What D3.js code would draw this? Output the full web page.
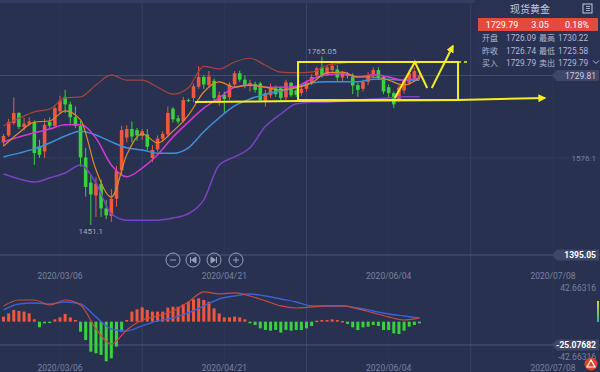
<!DOCTYPE html>
<html>
<head>
<meta charset="utf-8">
<script src="https://cdn.jsdelivr.net/npm/d3@7"></script>
<style>
  html, body { margin: 0; padding: 0; background: #28314f; }
  svg { display: block; }
  text { font-family: Roboto, "Noto Sans CJK SC", sans-serif; }
</style>
</head>
<body>
<div id="chart"></div>
<script>
// Daily candles, index 0 = 2020/02/20
const open  = [1605,1618,1641,1660,1634,1640,1643,1598,1588,1643,1636,1663,1690,1676,1652,1636,1577,1530,1506,1527,
               1482,1468,1500,1553,1614,1630,1628,1617,1620,1576,1592,1612,1620,1668,1650,1645,1684,1688,1709,1727,
               1712,1720,1680,1694,1689,1713,1734,1722,1710,1714,1715,1681,1693,1706,1706,1689,1716,1702,1697,1705,
               1716,1730,1745,1732,1740,1741,1726,1733,1728,1712,1705,1718,1730,1740,1727,1708,1697,1686,1702,1716,
               1724,1726];
const high  = [1621,1649,1689,1662,1651,1652,1646,1610,1649,1652,1674,1692,1703,1681,1672,1645,1595,1545,1540,1536,
               1498,1518,1561,1636,1637,1644,1632,1630,1630,1600,1618,1626,1672,1671,1656,1690,1687,1715,1747,1731,
               1738,1724,1700,1700,1717,1738,1739,1730,1722,1718,1718,1703,1715,1711,1709,1722,1718,1710,1710,1720,
               1732,1746,1765.05,1749,1753,1749,1738,1736,1734,1716,1722,1736,1745,1745,1730,1713,1700,1712,1724,1740,
               1745,1738];
const low   = [1598,1615,1638,1630,1627,1636,1563,1576,1576,1630,1633,1658,1660,1640,1632,1560,1504,1451.1,1466,1466,
               1462,1457,1485,1545,1605,1605,1608,1610,1590,1568,1588,1606,1615,1642,1640,1642,1680,1680,1705,1705,
               1707,1681,1673,1660,1684,1710,1718,1706,1700,1698,1680,1672,1688,1690,1683,1684,1690,1690,1692,1700,
               1712,1725,1726,1729,1735,1720,1718,1724,1695,1690,1700,1712,1725,1722,1695,1690,1669,1680,1696,1712,
               1720,1722];
const close = [1617,1643,1660,1634,1640,1644,1585,1582,1638,1636,1669,1683,1676,1652,1636,1577,1522,1508,1528,1482,
               1469,1500,1552,1628,1630,1616,1618,1626,1597,1591,1612,1621,1660,1648,1644,1684,1683,1710,1727,1713,
               1728,1688,1693,1686,1713,1734,1722,1712,1716,1703,1684,1697,1706,1695,1688,1717,1693,1694,1705,1717,
               1727,1743,1731,1745,1748,1726,1735,1729,1711,1703,1718,1730,1740,1727,1700,1697,1676,1707,1720,1734,
               1738,1729.79];

// Indicator lines, read every third candle
const lineIdx   = [0,3,6,9,12,15,18,21,24,27,30,33,36,39,42,45,48,51,54,57,60,63,66,69,72,75,78,81];
const bollUpper = [1636,1650,1662,1667,1688,1690,1712,1731,1721,1721,1708,1695,1707,1747,1742,1755,1762,1749,1736,1735,1736,1749,1753,1755,1755,1755,1755,1753];
const bollLower = [1546,1537,1531,1539,1548,1563,1529,1472,1460,1460,1460,1464,1472,1498,1563,1578,1595,1635,1658,1677,1680,1680,1682,1684,1686,1688,1690,1690];
const maBlue    = [1578,1585,1593,1604,1617,1626,1619,1606,1595,1591,1585,1585,1595,1625,1651,1673,1686,1695,1701,1708,1716,1718,1718,1718,1723,1723,1721,1721];
const maMagenta = [1606,1615,1623,1630,1638,1638,1613,1563,1541,1557,1582,1615,1643,1669,1688,1708,1712,1708,1708,1710,1723,1731,1733,1727,1731,1727,1721,1725];
const maOrange  = [1598,1623,1643,1645,1664,1647,1554,1503,1582,1621,1604,1626,1656,1699,1718,1708,1712,1708,1703,1707,1716,1735,1736,1727,1727,1721,1712,1725];

// MACD histogram, one per candle
const macdHist = [5.4,8.9,12.6,11.5,10.8,8.9,2.5,-6.1,-1.8,-1.1,
                  2.5,4.6,8.3,4.6,1.8,-10.8,-19.7,-32.3,-34.1,-35.8,
                  -42.66,-39.5,-26.9,-10.8,1.8,10.8,13.2,15.4,12.6,10.8,
                  10.8,10.8,15.1,16.1,16.1,18.6,21.5,24.0,25.1,23.3,
                  21.5,14.3,8.9,4.6,4.6,5.4,4.6,2.5,-1.8,-3.6,
                  -7.2,-8.9,-9.7,-8.9,-11.8,-8.9,-9.7,-8.9,-9.0,-7.2,
                  -4.7,1.1,1.8,1.8,2.5,1.8,0.7,-2.5,-6.1,-9.0,
                  -6.1,-5.4,-3.6,-4.7,-9.0,-9.0,-12.6,-13.3,-9.7,-5.4,
                  -3.6,-1.8];
const macdDif = [16.9,23.3,23.3,18.0,23.3,18.0,-7.9,-24.0,-8.9,1.8,6.1,11.5,21.2,32.0,29.8,30.9,27.6,22.3,16.9,14.7,15.8,16.9,16.9,13.7,9.4,5.1,1.8,4.0];
const macdDea = [12.6,19.0,20.1,19.0,21.2,19.0,5.1,-7.9,-10.0,-4.6,0.8,4.0,9.4,16.9,24.4,27.6,29.8,27.6,24.4,21.2,16.9,16.9,16.9,14.7,11.5,8.3,6.1,4.0];

// Axis labels
const dateIdx    = [11, 43, 75, 107];
const dateLabels = ["2020/03/06", "2020/04/21", "2020/06/04", "2020/07/08"];
const gridIdx    = [27, 59, 91];
const priceTicks = [1576.1];
const lastPrice  = 1729.81;
const bottomPrice = 1395.05;
const macdMax = 42.66316;
const macdCur = -25.07682;
const peakHigh = {i: 62, v: 1765.05, label: "1765.05"};
const troughLow = {i: 17, v: 1451.1, label: "1451.1"};

// Yellow hand drawn annotation, in candle index / price
const boxIdx = [57.35, 88.5], boxPrice = [1684, 1755];
const supportIdx = [37.3, 57.35, 88.5, 105.4], supportPrice = [1680.4, 1682.2, 1684.1, 1687.8];
const zigIdx = [76.2, 80.1, 82.5], zigPrice = [1687.8, 1755, 1706.5];
const upIdx = [83.4, 87.5], upPrice = [1706.5, 1784.8];
const dashIdx = [88.5, 90.8];

// Quote panel
const quoteTitle = "现货黄金";
const quoteHead = ["1729.79", "3.05", "0.18%"];
const quoteRows = [["开盘", "1726.09", "最高", "1730.22"],
                   ["昨收", "1726.74", "最低", "1725.58"],
                   ["买入", "1729.79", "卖出", "1729.79"]];

const W = 600, H = 372;
const up = "#f0583e", down = "#38d23c";

const x = d3.scaleLinear().domain([11, 107]).range([60, 553]);
const y = d3.scaleLinear().domain([bottomPrice, lastPrice]).range([255, 75.5]);
const ym = d3.scaleLinear().domain([-macdMax, macdMax]).range([361.3, 282]);

const svg = d3.select("#chart").append("svg")
    .attr("width", W).attr("height", H);

svg.append("rect").attr("width", W).attr("height", H).attr("fill", "#28314f");
svg.append("rect").attr("width", W).attr("height", 3).attr("fill", "#343d60");

// grid
svg.selectAll("line.vg").data(gridIdx).join("line")
    .attr("x1", d => x(d)).attr("x2", d => x(d))
    .attr("y1", 3).attr("y2", H)
    .attr("stroke", "#39426a").attr("stroke-width", 1);
svg.selectAll("line.vg2").data(dateIdx).join("line")
    .attr("x1", d => x(d)).attr("x2", d => x(d))
    .attr("y1", 3).attr("y2", H)
    .attr("stroke", "#2e3759").attr("stroke-width", 1);

svg.selectAll("line.hg").data(priceTicks).join("line")
    .attr("x1", 0).attr("x2", W)
    .attr("y1", d => y(d)).attr("y2", d => y(d))
    .attr("stroke", "#333c5f");
svg.append("line")
    .attr("x1", 0).attr("x2", 556)
    .attr("y1", y(lastPrice)).attr("y2", y(lastPrice))
    .attr("stroke", "#4a5478").attr("stroke-opacity", 0.8);
svg.append("line")
    .attr("x1", 0).attr("x2", W)
    .attr("y1", y(bottomPrice)).attr("y2", y(bottomPrice))
    .attr("stroke", "#4d577c");
svg.append("line")
    .attr("x1", 0).attr("x2", W)
    .attr("y1", ym(macdCur)).attr("y2", ym(macdCur))
    .attr("stroke", "#4d577c");

// candles
const idx = d3.range(open.length);
const cg = svg.append("g");
cg.selectAll("line").data(idx).join("line")
    .attr("x1", i => x(i)).attr("x2", i => x(i))
    .attr("y1", i => y(high[i])).attr("y2", i => y(low[i]))
    .attr("stroke", i => close[i] >= open[i] ? up : down);
cg.selectAll("rect").data(idx).join("rect")
    .attr("x", i => x(i) - 1.8).attr("width", 3.6)
    .attr("y", i => y(Math.max(open[i], close[i])))
    .attr("height", i => Math.max(1, y(Math.min(open[i], close[i])) - y(Math.max(open[i], close[i]))))
    .attr("fill", i => close[i] >= open[i] ? up : down);

// indicator lines
const priceLine = arr => d3.line()
    .x((d, k) => x(lineIdx[k]))
    .y(d => y(d))
    .curve(d3.curveMonotoneX)(arr);
[[bollUpper, "#a3453d", 1.2], [bollLower, "#7a42c4", 1.5], [maBlue, "#3f8fdc", 1.5],
 [maMagenta, "#d43ad6", 1.5], [maOrange, "#e08a2c", 1.2]].forEach(([arr, c, w]) => {
    svg.append("path").attr("d", priceLine(arr))
        .attr("fill", "none").attr("stroke", c).attr("stroke-width", w);
});

// high / low labels
svg.append("text").attr("x", x(peakHigh.i)).attr("y", y(peakHigh.v) - 3)
    .attr("text-anchor", "middle").attr("font-size", 8).attr("fill", "#a4aac2")
    .text(peakHigh.label);
svg.append("text").attr("x", x(troughLow.i)).attr("y", y(troughLow.v) + 9)
    .attr("text-anchor", "middle").attr("font-size", 8).attr("fill", "#a4aac2")
    .text(troughLow.label);

// yellow annotation
const yel = "#f2ee22";
const defs = svg.append("defs");
defs.append("marker").attr("id", "arr").attr("viewBox", "0 0 10 10")
    .attr("refX", 8).attr("refY", 5).attr("markerWidth", 4).attr("markerHeight", 4)
    .attr("orient", "auto")
    .append("path").attr("d", "M0,0L10,5L0,10z").attr("fill", yel);
const ag = svg.append("g").attr("fill", "none").attr("stroke", yel).attr("stroke-width", 2);
ag.append("rect")
    .attr("x", x(boxIdx[0])).attr("y", y(boxPrice[1]))
    .attr("width", x(boxIdx[1]) - x(boxIdx[0]))
    .attr("height", y(boxPrice[0]) - y(boxPrice[1]));
const pl = (is, ps) => d3.line()(is.map((d, k) => [x(d), y(ps[k])]));
ag.append("path").attr("d", pl(supportIdx, supportPrice)).attr("marker-end", "url(#arr)");
ag.append("path").attr("d", pl(zigIdx, zigPrice));
ag.append("path").attr("d", pl(upIdx, upPrice)).attr("marker-end", "url(#arr)");
ag.append("path").attr("d", pl(dashIdx, [boxPrice[1], boxPrice[1]]))
    .attr("stroke-dasharray", "3,3").attr("stroke-width", 1.5);

// MACD
const mg = svg.append("g");
mg.selectAll("rect").data(idx).join("rect")
    .attr("x", i => x(i) - 1.5).attr("width", 3)
    .attr("y", i => ym(Math.max(0, macdHist[i])))
    .attr("height", i => Math.max(1.5, Math.abs(ym(macdHist[i]) - ym(0))))
    .attr("fill", i => macdHist[i] >= 0 ? up : down);
const macdLine = arr => d3.line()
    .x((d, k) => x(lineIdx[k]))
    .y(d => ym(d))
    .curve(d3.curveMonotoneX)(arr);
svg.append("path").attr("d", macdLine(macdDea))
    .attr("fill", "none").attr("stroke", "#3d5fd4").attr("stroke-width", 1.4);
svg.append("path").attr("d", macdLine(macdDif))
    .attr("fill", "none").attr("stroke", "#c94b3c").attr("stroke-width", 1.2);

// date labels
[276, 368].forEach(ty => {
    svg.selectAll(null).data(dateIdx).join("text")
        .attr("x", d => x(d)).attr("y", ty + 3)
        .attr("text-anchor", "middle").attr("font-size", 8.5)
        .attr("fill", "#7b829f")
        .text((d, k) => dateLabels[k]);
});

// right axis labels
svg.selectAll(null).data(priceTicks).join("text")
    .attr("x", 596).attr("y", d => y(d) + 3)
    .attr("text-anchor", "end").attr("font-size", 8).attr("fill", "#7b829f")
    .text(d => d);
svg.append("text").attr("x", 596).attr("y", ym(macdMax) + 9)
    .attr("text-anchor", "end").attr("font-size", 8.5).attr("fill", "#7b829f")
    .text(macdMax);
svg.append("text").attr("x", 596).attr("y", ym(-macdMax) - 1)
    .attr("text-anchor", "end").attr("font-size", 8.5).attr("fill", "#7b829f")
    .text(-macdMax);

function tag(yy, label, bold, color) {
    const g = svg.append("g");
    g.append("path")
        .attr("d", `M552,${yy}L557,${yy - 5.5}H599V${yy + 5.5}H557Z`)
        .attr("fill", "#3e4769");
    g.append("text").attr("x", 596).attr("y", yy + 3.2)
        .attr("text-anchor", "end").attr("font-size", 8.5)
        .attr("font-weight", bold ? "bold" : "normal")
        .attr("fill", color).text(label);
}
tag(y(lastPrice), lastPrice, false, "#c9cde0");
tag(y(bottomPrice), bottomPrice, true, "#ffffff");
tag(ym(macdCur), macdCur, true, "#ffffff");

// small gradient bar and icon at the right
const gr = defs.append("linearGradient").attr("id", "gb").attr("x1", 0).attr("x2", 0).attr("y1", 0).attr("y2", 1);
gr.append("stop").attr("offset", 0).attr("stop-color", "#e0d030");
gr.append("stop").attr("offset", 1).attr("stop-color", "#30b0a0");
svg.append("rect").attr("x", 597).attr("y", 301).attr("width", 2).attr("height", 21).attr("fill", "url(#gb)");
svg.append("circle").attr("cx", 591).attr("cy", 364).attr("r", 6.5).attr("fill", "#e2452f");
svg.append("path").attr("d", "M587,367L591,360L595,367Z").attr("fill", "none").attr("stroke", "#fff").attr("stroke-width", 1.2);

// zoom buttons
const btnX = [173, 193, 214, 236];
const bg = svg.append("g").attr("stroke", "#9aa0b8").attr("fill", "none").attr("stroke-width", 1);
btnX.forEach(cx => bg.append("circle").attr("cx", cx).attr("cy", 260).attr("r", 7));
bg.append("path").attr("d", "M170,260H176");
bg.append("path").attr("d", "M233,260H239M236,257V263");
bg.append("path").attr("d", "M190.5,257V263M196,257L191.5,260L196,263Z").attr("fill", "#9aa0b8");
bg.append("path").attr("d", "M216.5,257V263M211,257L215.5,260L211,263Z").attr("fill", "#9aa0b8");

// quote panel
const qp = svg.append("g");
qp.append("rect").attr("x", 475).attr("y", 0).attr("width", 125).attr("height", 69)
    .attr("fill", "#2a3254");
qp.append("text").attr("x", 530).attr("y", 13).attr("text-anchor", "middle")
    .attr("font-size", 10).attr("fill", "#c6cadb").attr("font-family", "Noto Sans CJK SC")
    .text(quoteTitle);
qp.append("rect").attr("x", 583).attr("y", 4).attr("width", 9).attr("height", 9)
    .attr("fill", "none").attr("stroke", "#c6cadb").attr("stroke-width", 1);
qp.append("path").attr("d", "M586,6.5H590M586,8.5H590M586,10.5H590")
    .attr("stroke", "#c6cadb").attr("stroke-width", 0.8);
qp.append("rect").attr("x", 478).attr("y", 18).attr("width", 120).attr("height", 13)
    .attr("fill", "#e3493c");
[502, 540, 577].forEach((tx, k) => {
    qp.append("text").attr("x", tx).attr("y", 28).attr("text-anchor", "middle")
        .attr("font-size", 9).attr("fill", "#ffffff").text(quoteHead[k]);
});
const colX = [482, 506, 539, 558];
quoteRows.forEach((row, r) => {
    row.forEach((t, c) => {
        qp.append("text").attr("x", colX[c]).attr("y", 41 + r * 12.5)
            .attr("font-size", c % 2 === 0 ? 8 : 8.3).attr("fill", "#b4b8cc")
            .attr("font-family", c % 2 === 0 ? "Noto Sans CJK SC" : "Roboto")
            .text(t);
    });
});
qp.append("path").attr("d", "M593,60.5L596,63.5L599,60.5")
    .attr("fill", "none").attr("stroke", "#b4b8cc").attr("stroke-width", 1);
</script>
</body>
</html>
